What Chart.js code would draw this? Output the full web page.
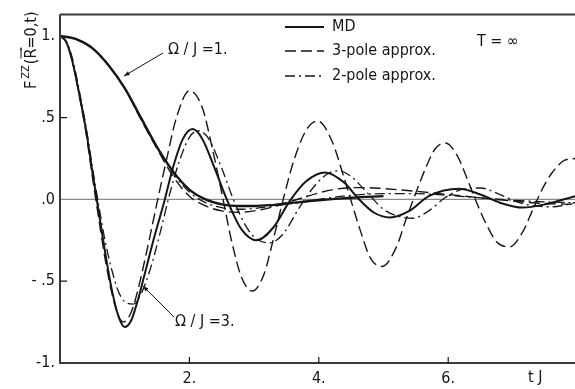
<!DOCTYPE html>
<html>
<head>
<meta charset="utf-8">
<script src="https://cdn.jsdelivr.net/npm/chart.js@4.4.1/dist/chart.umd.min.js"></script>
<style>
    html, body { margin: 0; padding: 0; background: #fff; }
    canvas { display: block; }
</style>
</head>
<body>
<canvas id="fzz-chart" width="575" height="389"></canvas>
<script>
// tick values and labels
const xTicks = [2, 4, 6]
const xTickLabels = ["2.", "4.", "6."]
const yTicks = [-1, -0.5, 0, 0.5, 1]
const yTickLabels = ["-1.", "- .5", ".0", ".5", "1."]

// Omega/J = 1
const tMd1 = [0, 0.25, 0.5, 0.75, 1.0, 1.25, 1.5, 1.75, 2.0, 2.25, 2.5, 2.75, 3.0, 3.25, 3.5, 4.0, 4.5, 5.0]
const fMd1 = [1.0, 0.98, 0.925, 0.82, 0.68, 0.5, 0.32, 0.17, 0.06, 0.0, -0.03, -0.04, -0.04, -0.035, -0.025, -0.005, 0.01, 0.02]

const tPole3w1 = [0, 0.25, 0.5, 0.75, 1.0, 1.25, 1.5, 1.75, 2.0, 2.25, 2.5, 2.75, 3.0, 3.25, 3.5, 3.75, 4.0, 4.25, 4.5, 4.75, 5.0, 5.5, 6.0, 6.5, 7.0, 7.5, 7.96]
const fPole3w1 = [1.0, 0.98, 0.925, 0.82, 0.68, 0.49, 0.31, 0.14, 0.02, -0.04, -0.07, -0.078, -0.07, -0.05, -0.02, 0.01, 0.04, 0.062, 0.072, 0.072, 0.066, 0.05, 0.03, 0.01, -0.01, -0.025, -0.03]

const tPole2w1 = [0, 0.25, 0.5, 0.75, 1.0, 1.25, 1.5, 1.75, 2.0, 2.25, 2.5, 2.75, 3.0, 3.5, 4.0, 4.5, 5.0, 5.5, 6.0, 6.5, 7.0, 7.5, 7.96]
const fPole2w1 = [1.0, 0.98, 0.925, 0.82, 0.68, 0.5, 0.32, 0.16, 0.045, -0.02, -0.05, -0.06, -0.055, -0.03, 0.0, 0.025, 0.035, 0.035, 0.025, 0.01, -0.005, -0.015, -0.02]

// Omega/J = 3
const tMd3 = [0, 0.1, 0.2, 0.3, 0.4, 0.5, 0.6, 0.7, 0.8, 0.9, 1.0, 1.1, 1.2, 1.3, 1.45, 1.6, 1.75, 1.9, 2.05, 2.2, 2.4, 2.6, 2.8, 3.04, 3.3, 3.55, 3.8, 4.1, 4.4, 4.6, 4.85, 5.1, 5.4, 5.7, 6.17, 6.5, 6.8, 7.15, 7.5, 7.96]
const fMd3 = [1.0, 0.96, 0.83, 0.64, 0.43, 0.17, -0.08, -0.33, -0.55, -0.71, -0.78, -0.74, -0.62, -0.47, -0.24, -0.03, 0.2, 0.37, 0.43, 0.37, 0.18, -0.02, -0.18, -0.25, -0.17, -0.01, 0.11, 0.165, 0.1, 0.01, -0.08, -0.11, -0.07, 0.02, 0.065, 0.03, -0.02, -0.05, -0.03, 0.02]

const tPole3w3 = [0, 0.1, 0.2, 0.3, 0.4, 0.5, 0.6, 0.7, 0.8, 0.9, 0.98, 1.1, 1.2, 1.35, 1.5, 1.65, 1.8, 2.0, 2.2, 2.35, 2.5, 2.65, 2.8, 2.97, 3.15, 3.3, 3.45, 3.6, 3.8, 3.98, 4.2, 4.4, 4.5, 4.65, 4.8, 4.98, 5.2, 5.35, 5.5, 5.65, 5.8, 5.96, 6.15, 6.3, 6.45, 6.6, 6.75, 6.95, 7.15, 7.3, 7.45, 7.6, 7.8, 7.96]
const fPole3w3 = [1.0, 0.96, 0.83, 0.63, 0.41, 0.14, -0.12, -0.37, -0.57, -0.71, -0.75, -0.69, -0.56, -0.3, -0.02, 0.25, 0.5, 0.665, 0.56, 0.32, 0.04, -0.25, -0.47, -0.56, -0.46, -0.24, 0.0, 0.22, 0.42, 0.48, 0.36, 0.12, -0.01, -0.2, -0.36, -0.41, -0.29, -0.12, 0.04, 0.19, 0.31, 0.345, 0.26, 0.12, -0.03, -0.16, -0.26, -0.29, -0.2, -0.07, 0.06, 0.16, 0.24, 0.25]

const tPole2w3 = [0, 0.1, 0.2, 0.3, 0.4, 0.5, 0.6, 0.7, 0.8, 0.9, 1.0, 1.13, 1.25, 1.4, 1.55, 1.7, 1.85, 2.0, 2.14, 2.3, 2.5, 2.7, 2.9, 3.05, 3.25, 3.45, 3.7, 3.95, 4.15, 4.3, 4.5, 4.75, 5.0, 5.2, 5.45, 5.7, 5.95, 6.2, 6.5, 6.8, 7.1, 7.35, 7.6, 7.8, 7.96]
const fPole2w3 = [1.0, 0.965, 0.85, 0.66, 0.45, 0.2, -0.04, -0.26, -0.43, -0.56, -0.625, -0.64, -0.58, -0.42, -0.2, 0.04, 0.24, 0.38, 0.42, 0.37, 0.19, -0.02, -0.18, -0.245, -0.265, -0.21, -0.05, 0.09, 0.16, 0.175, 0.14, 0.04, -0.06, -0.1, -0.115, -0.07, 0.01, 0.06, 0.07, 0.03, -0.02, -0.04, -0.045, -0.035, -0.02]

const legendLabels = ["MD", "3-pole approx.", "2-pole approx."]

const FONT = "'Liberation Sans Narrow', 'DejaVu Sans Condensed', 'Roboto Condensed', 'Liberation Sans', sans-serif"
const INK = "#161616"
const DASH = [11, 5]
const DASHDOT = [10, 4, 2, 4]

function toPoints(ts, fs) {
    return ts.map((t, i) => ({ x: t, y: fs[i] }))
}

function lineSet(ts, fs, dash, width) {
    return {
        data: toPoints(ts, fs),
        borderColor: INK,
        borderWidth: width,
        borderDash: dash,
        pointRadius: 0,
        fill: false,
        cubicInterpolationMode: "monotone",
    }
}

// frame, tick marks, legend and text labels
const decorations = {
    id: "decorations",
    beforeDatasetsDraw(chart) {
        const { ctx, chartArea: a, scales } = chart
        ctx.save()
        // zero line
        ctx.strokeStyle = "#8a8a8a"
        ctx.lineWidth = 1.2
        const y0 = scales.y.getPixelForValue(0)
        ctx.beginPath()
        ctx.moveTo(a.left, y0)
        ctx.lineTo(a.right, y0)
        ctx.stroke()
        ctx.restore()
    },
    afterDraw(chart) {
        const { ctx, chartArea: a, scales } = chart
        ctx.save()
        ctx.strokeStyle = "#3a3a3a"
        ctx.lineWidth = 2
        ctx.beginPath()
        ctx.moveTo(a.left, a.top)
        ctx.lineTo(a.right, a.top)
        ctx.moveTo(a.left, a.top)
        ctx.lineTo(a.left, a.bottom)
        ctx.lineTo(a.right, a.bottom)
        ctx.stroke()

        // inward tick marks
        ctx.lineWidth = 1.2
        ctx.strokeStyle = INK
        ctx.beginPath()
        xTicks.forEach(v => {
            const px = scales.x.getPixelForValue(v)
            ctx.moveTo(px, a.bottom)
            ctx.lineTo(px, a.bottom - 6)
        })
        ;[0.5, -0.5].forEach(v => {
            const py = scales.y.getPixelForValue(v)
            ctx.moveTo(a.left, py)
            ctx.lineTo(a.left + 7, py)
        })
        ctx.stroke()

        ctx.fillStyle = INK
        ctx.textBaseline = "middle"

        // axis title x
        ctx.font = "16px " + FONT
        ctx.textAlign = "left"
        ctx.fillText("t J", 528, 378)

        // legend
        const dashes = [[], DASH, DASHDOT]
        const widths = [2.2, 1.4, 1.4]
        const rows = [27, 51, 76]
        rows.forEach((ry, i) => {
            ctx.setLineDash(dashes[i])
            ctx.lineWidth = widths[i]
            ctx.beginPath()
            ctx.moveTo(285, ry)
            ctx.lineTo(324, ry)
            ctx.stroke()
            ctx.setLineDash([])
            ctx.fillText(legendLabels[i], 332, ry)
        })
        ctx.fillText("T = \u221E", 477, 42)

        // curve annotations with arrows
        drawArrow(ctx, 163, 53, 124, 76)
        ctx.fillText("\u03A9 / J =1.", 168, 50)
        drawArrow(ctx, 174, 317, 143, 286)
        ctx.fillText("\u03A9 / J =3.", 175, 322)

        // y axis title, rotated
        ctx.translate(36, 89)
        ctx.rotate(-Math.PI / 2)
        ctx.textBaseline = "alphabetic"
        ctx.font = "16px " + FONT
        ctx.fillText("F", 0, 0)
        let x = ctx.measureText("F").width + 2
        ctx.font = "11px " + FONT
        ctx.fillText("ZZ", x, -7)
        x += ctx.measureText("ZZ").width + 1
        ctx.font = "16px " + FONT
        ctx.fillText("(", x, 0)
        x += ctx.measureText("(").width
        const rw = ctx.measureText("R").width
        ctx.fillText("R", x, 0)
        drawArrow(ctx, x, -15, x + rw + 1, -15, 3)
        x += rw
        ctx.fillText("=0,t)", x, 0)
        ctx.restore()
    },
}

function drawArrow(ctx, x1, y1, x2, y2, head) {
    const h = head || 6
    const ang = Math.atan2(y2 - y1, x2 - x1)
    ctx.save()
    ctx.lineWidth = 1
    ctx.strokeStyle = INK
    ctx.fillStyle = INK
    ctx.beginPath()
    ctx.moveTo(x1, y1)
    ctx.lineTo(x2, y2)
    ctx.stroke()
    ctx.beginPath()
    ctx.moveTo(x2, y2)
    ctx.lineTo(x2 - h * Math.cos(ang - 0.35), y2 - h * Math.sin(ang - 0.35))
    ctx.lineTo(x2 - h * Math.cos(ang + 0.35), y2 - h * Math.sin(ang + 0.35))
    ctx.closePath()
    ctx.fill()
    ctx.restore()
}

const canvas = document.getElementById("fzz-chart")
const chart = new Chart(canvas, {
    type: "line",
    data: {
        datasets: [
            lineSet(tMd1, fMd1, [], 2.4),
            lineSet(tPole3w1, fPole3w1, DASH, 1.4),
            lineSet(tPole2w1, fPole2w1, DASHDOT, 1.3),
            lineSet(tMd3, fMd3, [], 2.0),
            lineSet(tPole3w3, fPole3w3, DASH, 1.4),
            lineSet(tPole2w3, fPole2w3, DASHDOT, 1.3),
        ],
    },
    options: {
        responsive: false,
        animation: false,
        layout: { padding: { top: 2, right: 0, left: 0, bottom: 0 } },
        plugins: {
            legend: { display: false },
            tooltip: { enabled: false },
        },
        scales: {
            x: {
                type: "linear",
                min: 0,
                max: 7.96,
                afterBuildTicks: s => { s.ticks = xTicks.map(v => ({ value: v })) },
                afterFit: s => { s.height = 26 },
                grid: { display: false, drawTicks: false },
                border: { display: false },
                ticks: {
                    callback: v => xTickLabels[xTicks.indexOf(v)],
                    font: { family: FONT, size: 16 },
                    color: INK,
                    padding: 6,
                    maxRotation: 0,
                    autoSkip: false,
                },
            },
            y: {
                min: -1,
                max: 1.13,
                afterBuildTicks: s => { s.ticks = yTicks.map(v => ({ value: v })) },
                afterFit: s => { s.width = 60 },
                grid: { display: false, drawTicks: false },
                border: { display: false },
                ticks: {
                    callback: v => yTickLabels[yTicks.indexOf(v)],
                    font: { family: FONT, size: 16 },
                    color: INK,
                    padding: 5,
                    autoSkip: false,
                },
            },
        },
    },
    plugins: [decorations],
})
</script>
</body>
</html>
